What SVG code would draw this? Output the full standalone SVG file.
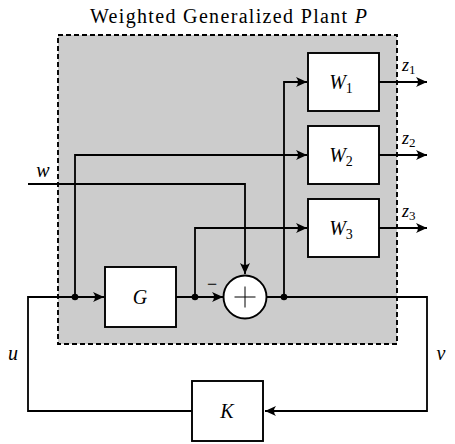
<svg xmlns="http://www.w3.org/2000/svg" width="455" height="444" viewBox="0 0 455 444">
<style>
.box{fill:#fff;stroke:#000;stroke-width:1.9}
.ln{fill:none;stroke:#000;stroke-width:1.8}
.t{font-family:"Liberation Serif","DejaVu Serif",serif;fill:#000}
.m{font-family:"Liberation Serif","DejaVu Serif",serif;font-style:italic;fill:#000}
.dot{fill:#000}
</style>
<defs>
<marker id="ar" viewBox="-12 -6 14 12" refX="0" refY="0" markerWidth="14" markerHeight="12" markerUnits="userSpaceOnUse" orient="auto">
<path d="M0,0 L-11,-5 Q-7,0 -11,5 Z" fill="#000"/>
</marker>
</defs>
<text class="t" x="90" y="23" font-size="20" textLength="277" lengthAdjust="spacing">Weighted Generalized Plant <tspan class="m">P</tspan></text>
<rect x="58" y="35" width="339" height="309" fill="#cccccc"/>
<g id="connectors">
<path class="ln" d="M28,184 H245 V274" marker-end="url(#ar)"/>
<path class="ln" d="M192,411 H28 V297 H104" marker-end="url(#ar)"/>
<path class="ln" d="M176,297 H223" marker-end="url(#ar)"/>
<path class="ln" d="M266.5,297 H427 V411 H265" marker-end="url(#ar)"/>
<path class="ln" d="M284,297 V82 H307" marker-end="url(#ar)"/>
<path class="ln" d="M75,297 V155 H307" marker-end="url(#ar)"/>
<path class="ln" d="M195,297 V228 H307" marker-end="url(#ar)"/>
<path class="ln" d="M379,82 H427" marker-end="url(#ar)"/>
<path class="ln" d="M379,155 H427" marker-end="url(#ar)"/>
<path class="ln" d="M379,228 H427" marker-end="url(#ar)"/>
<circle class="dot" cx="75" cy="297" r="3.3"/>
<circle class="dot" cx="195" cy="297" r="3.3"/>
<circle class="dot" cx="284" cy="297" r="3.3"/>
</g>
<rect x="58" y="35" width="339" height="309" fill="none" stroke="#000" stroke-width="1.9" stroke-dasharray="5,3"/>
<g id="W1"><rect class="box" x="308" y="53" width="71" height="58"/><text class="m" x="341" y="89" font-size="20" text-anchor="middle">W<tspan font-size="14" font-style="normal" dy="4">1</tspan></text></g>
<g id="W2"><rect class="box" x="308" y="126" width="71" height="58"/><text class="m" x="341" y="162" font-size="20" text-anchor="middle">W<tspan font-size="14" font-style="normal" dy="4">2</tspan></text></g>
<g id="W3"><rect class="box" x="308" y="199" width="71" height="58"/><text class="m" x="341" y="235" font-size="20" text-anchor="middle">W<tspan font-size="14" font-style="normal" dy="4">3</tspan></text></g>
<g id="G"><rect class="box" x="105" y="267" width="71" height="60"/><text class="m" x="140" y="304" font-size="20" text-anchor="middle">G</text></g>
<g id="K"><rect class="box" x="192" y="381" width="71" height="60"/><text class="m" x="227" y="418" font-size="20" text-anchor="middle">K</text></g>
<g id="sum"><circle cx="245" cy="297" r="21.5" fill="#fff" stroke="#000" stroke-width="1.9"/><path d="M234.5,297 H255.5 M245,286.5 V307.5" stroke="#000" stroke-width="1"/></g>
<text class="t" x="212" y="290" font-size="18" text-anchor="middle">−</text>
<text class="m" x="43" y="177" font-size="20" text-anchor="middle">w</text>
<text class="m" x="13" y="360" font-size="20" text-anchor="middle">u</text>
<text class="m" x="441" y="360" font-size="20" text-anchor="middle">v</text>
<text class="m" x="402" y="71" font-size="18">z<tspan font-size="13" font-style="normal" dy="3">1</tspan></text>
<text class="m" x="402" y="144" font-size="18">z<tspan font-size="13" font-style="normal" dy="3">2</tspan></text>
<text class="m" x="402" y="217" font-size="18">z<tspan font-size="13" font-style="normal" dy="3">3</tspan></text>
</svg>
